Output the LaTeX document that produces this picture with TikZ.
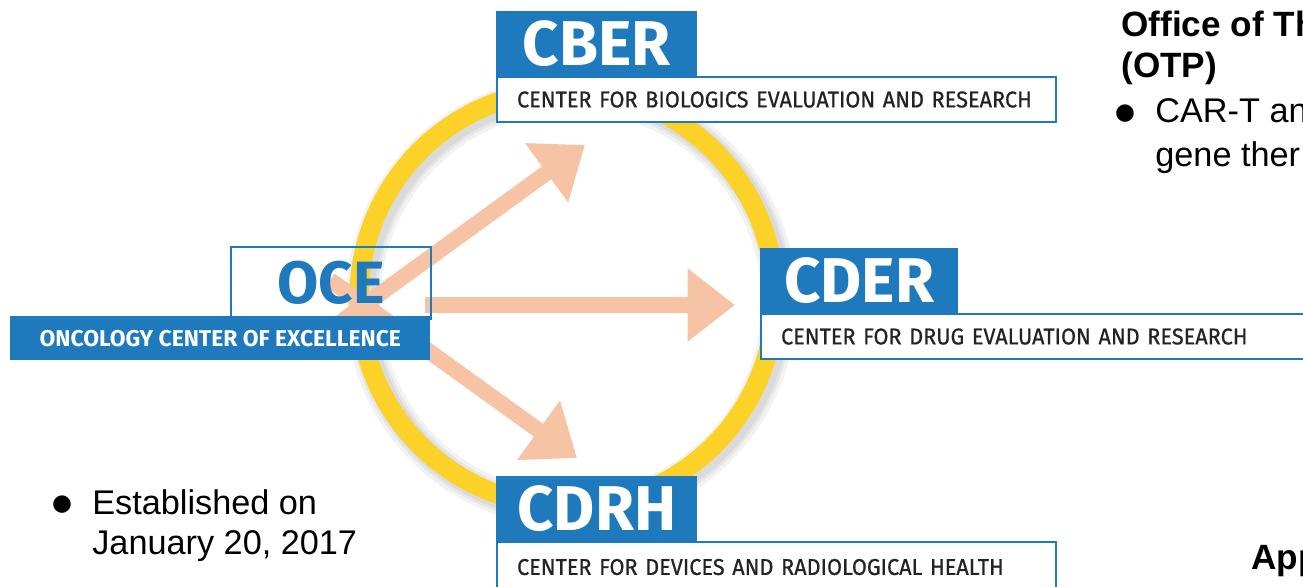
\documentclass[tikz,border=0pt]{standalone}
\usepackage{fontspec}
\setmainfont{Liberation Sans}
\newfontfamily\dinfont{Fira Sans}
\newfontfamily\dinsub[FakeStretch=0.95, FakeBold=0.7]{Fira Sans}
\newfontfamily\symfont{DejaVu Sans}
\usetikzlibrary{arrows.meta,positioning}
\definecolor{fdablue}{RGB}{31,122,189}
\definecolor{ringyellow}{RGB}{252,210,40}
\definecolor{peach}{RGB}{246,196,164}
\definecolor{labelgray}{RGB}{35,35,35}
\begin{document}
\begin{tikzpicture}[x=.02cm, y=-.02cm,
	head/.style={fill=fdablue, text=white, inner xsep=0pt, inner ysep=0pt, minimum width=4.02cm, minimum height=1.3cm,
	  anchor=south west, font=\dinfont\bfseries\fontsize{36}{36}\selectfont},
	sub/.style={draw=fdablue, line width=1.2pt, fill=white, text=labelgray, inner xsep=.4cm,
	  text width=10.38cm, align=left, minimum height=.9cm, anchor=north west, font=\dinsub\fontsize{13}{15}\selectfont},
	flow/.style={draw=peach, line width=9pt, -{Triangle[length=27pt, width=40pt]}},
	line/.style={anchor=base west, inner sep=0pt, font=\fontsize{19.5}{22}\selectfont},
	title/.style={line, font=\bfseries\fontsize{20}{22}\selectfont},
	dot/.style={anchor=center, font=\symfont\fontsize{13}{13}\selectfont}]
	\useasboundingbox (0, 0) rectangle (1303, 587);
	\clip (0, 0) rectangle (1303, 587);
	% ring with a soft shadow
	\foreach \w in {20, 16, 13} \draw [black, opacity=.05, line width=\w pt] (571, 302) circle [radius=208];
	\draw [ringyellow, line width=11pt] (567, 298) circle [radius=208];
	% arrows out of the OCE
	\coordinate (upstart) at (330, 330);
	\coordinate (downstart) at (330, 280);
	\coordinate (midstart) at (425, 305);
	\coordinate (cbertip) at (585, 145);
	\coordinate (cdertip) at (735, 305);
	\coordinate (cdrhtip) at (577, 458);
	\draw [flow] (upstart) -- (cbertip);
	\draw [flow] (downstart) -- (cdrhtip);
	\draw [flow] (midstart) -- (cdertip);
	% OCE
	\node [draw=fdablue, line width=1.2pt, minimum width=4cm, minimum height=1.44cm, anchor=north west] (ocebox) at (230, 246) {};
	\node [text=fdablue, font=\dinfont\bfseries\fontsize{34}{34}\selectfont] (oce) at (ocebox.center) {OCE};
	\node [fill=fdablue, text=white, minimum width=8.4cm, minimum height=.88cm, anchor=north west,
	  font=\dinfont\bfseries\fontsize{13}{15}\selectfont] (ocebar) at (10, 316) {ONCOLOGY CENTER OF EXCELLENCE};
	% the three centers
	\node [sub] (cbersub) at (496, 76) {\mbox{CENTER FOR BIOLOGICS EVALUATION AND RESEARCH}};
	\node [head] (cber) at (cbersub.north west) {CBER};
	\node [sub] (cdersub) at (760, 313) {\mbox{CENTER FOR DRUG EVALUATION AND RESEARCH}};
	\node [head, minimum width=3.96cm] (cder) at (cdersub.north west) {CDER};
	\node [sub, minimum height=1cm] (cdrhsub) at (496, 541) {\mbox{CENTER FOR DEVICES AND RADIOLOGICAL HEALTH}};
	\node [head] (cdrh) at (cdrhsub.north west) {CDRH};
	% slide text
	\node [dot] (dotest) at (62, 505) {●};
	\node [line] (est1) at (92, 515) {Established on};
	\node [line] (est2) at (92, 555) {January 20, 2017};
	\node [title] (otp1) at (1121, 37) {Office of Th};
	\node [title] (otp2) at (1121, 78) {(OTP)};
	\node [dot] (dotcar) at (1125, 114) {●};
	\node [line] (car1) at (1155, 123) {CAR-T an};
	\node [line] (car2) at (1155, 167) {gene ther};
	\node [title] (app) at (1251, 570) {App};
\end{tikzpicture}
\end{document}
